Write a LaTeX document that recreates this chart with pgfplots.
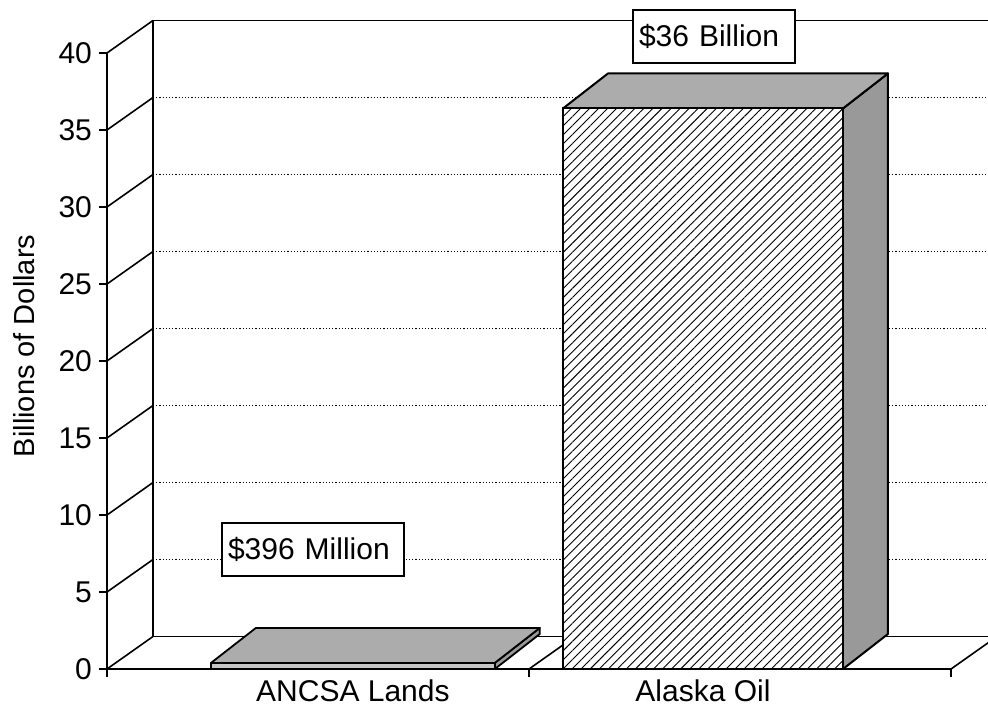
\documentclass[border=0pt]{standalone}
\usepackage{fontspec}
\setmainfont{Liberation Sans}
\usepackage{pgfplots}
\pgfplotsset{compat=1.18}
\usetikzlibrary{patterns.meta}
\begin{document}
\begin{tikzpicture}
\begin{axis}[
  x=211pt, y=7.7pt,
  xmin=0, xmax=2, ymin=0, ymax=40,
  axis x line*=bottom, axis y line*=left,
  axis line style={line width=1pt},
  clip=false,
  ytick={0,5,...,40},
  xtick={0,1,2}, xticklabels={},
  extra x ticks={0.5827,1.4123},
  extra x tick labels={ANCSA Lands, Alaska Oil},
  extra x tick style={major tick length=0pt},
  xticklabel style={yshift=-2pt},
  tick align=outside, major tick length=4pt,
  tick style={black, line width=1pt},
  every tick label/.append style={font=\fontsize{15}{18}\selectfont},
  /pgf/number format/assume math mode=true,
  ylabel={Billions of Dollars},
  ylabel style={font=\fontsize{14.5}{17}\selectfont, at={(axis description cs:-0.0983,0.5244)}, anchor=center},
]
% back wall gridlines
\pgfplotsinvokeforeach{5,10,...,35}{
  \draw[densely dotted, black, line width=0.6pt] ([xshift=23pt,yshift=16.25pt]axis cs:0,#1) -- ([yshift=16.25pt]axis cs:2.09,#1);
}
\draw[black, line width=0.8pt] ([xshift=23pt,yshift=16.25pt]axis cs:0,40) -- ([yshift=16.25pt]axis cs:2.09,40);
\draw[black, line width=0.8pt] ([xshift=23pt,yshift=16.25pt]axis cs:0,0) -- ([yshift=16.25pt]axis cs:2.09,0);
\draw[black, line width=0.6pt] ([xshift=23pt,yshift=16.25pt]axis cs:0,0) -- ([xshift=23pt,yshift=16.25pt]axis cs:0,40);
\pgfplotsinvokeforeach{0,5,...,40}{
  \draw[black, line width=0.8pt] (axis cs:0,#1) -- ([xshift=23pt,yshift=16.25pt]axis cs:0,#1);
}
\draw[black, line width=0.8pt] (axis cs:1,0) -- ([xshift=23pt,yshift=16.25pt]axis cs:1,0);
\draw[black, line width=0.8pt] (axis cs:2,0) -- ([xshift=23pt,yshift=16.25pt]axis cs:2,0);
% ANCSA Lands bar (0.396)
\addplot[draw=black, line width=0.9pt, line join=round, fill=black!40] coordinates {(0.919,0) (1.0256,2.273) (1.0256,2.669) (0.919,0.396)} -- cycle;
\addplot[draw=black, line width=0.9pt, line join=round, fill=gray!65] coordinates {(0.2464,0.396) (0.919,0.396) (1.0256,2.669) (0.353,2.669)} -- cycle;
\addplot[draw=black, line width=0.9pt, line join=round, fill=gray!45] coordinates {(0.2464,0) (0.919,0) (0.919,0.396) (0.2464,0.396)} -- cycle;
% Alaska Oil bar (36.4)
\addplot[draw=black, line width=1pt, line join=round, fill=black!40] coordinates {(1.744,0) (1.8506,2.273) (1.8506,38.673) (1.744,36.4)} -- cycle;
\addplot[draw=black, line width=1pt, line join=round, fill=gray!65] coordinates {(1.0806,36.4) (1.744,36.4) (1.8506,38.673) (1.1872,38.673)} -- cycle;
\addplot[draw=black, line width=1pt, line join=round, preaction={fill=white}, pattern={Lines[angle=45,distance=3.2pt,line width=0.45pt]}] coordinates {(1.0806,0) (1.744,0) (1.744,36.4) (1.0806,36.4)} -- cycle;
% value labels
\node[draw, fill=white, line width=0.7pt, inner xsep=3pt, inner ysep=0pt, text width=75pt, align=left, minimum height=26.5pt, font=\fontsize{15}{18}\selectfont] at (axis cs:1.4384,41.07) {\$36 Billion};
\node[draw, fill=white, line width=0.7pt, inner xsep=3pt, inner ysep=0pt, text width=85pt, align=left, minimum height=26.5pt, font=\fontsize{15}{18}\selectfont] at (axis cs:0.4882,7.76) {\$396 Million};
\coordinate (bl) at (axis cs:-0.25355,-2.4675);
\coordinate (tr) at (axis cs:2.08768,43.4416);
\end{axis}
\pgfresetboundingbox
\useasboundingbox (bl) rectangle (tr);
\end{tikzpicture}
\end{document}
